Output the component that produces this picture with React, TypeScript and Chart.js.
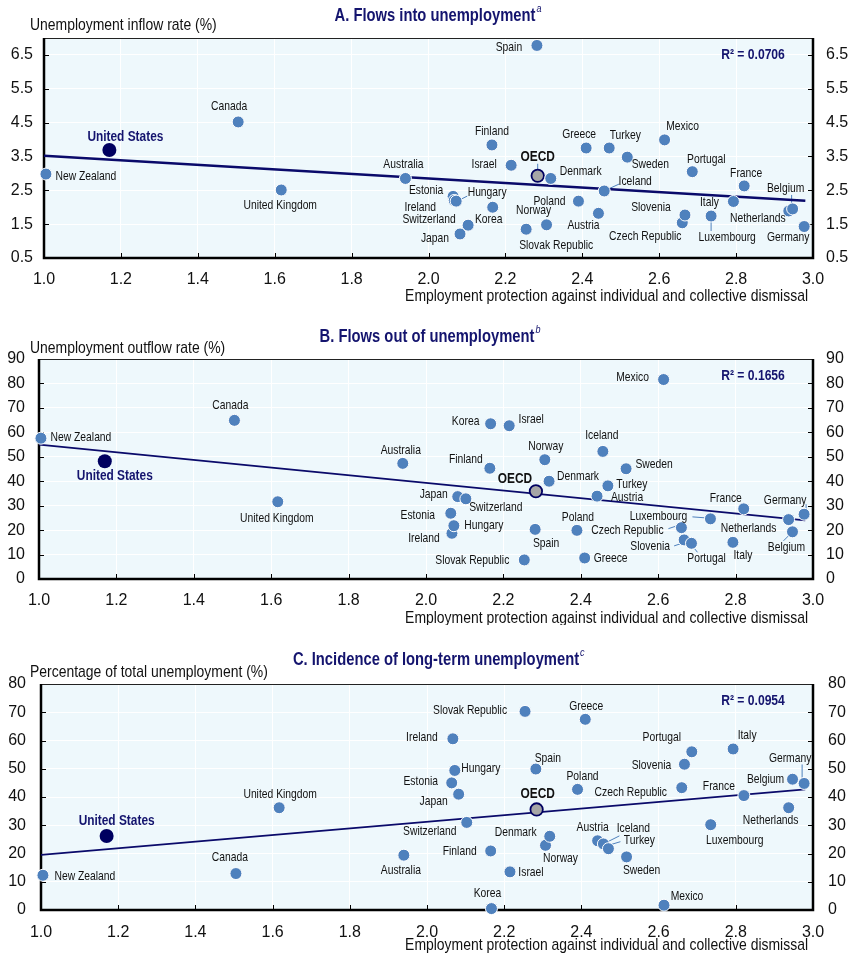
import React, { useEffect, useRef } from 'react';
import { Chart, registerables } from 'chart.js';

Chart.register(...registerables);

const FONT = "'Liberation Sans', Arial, sans-serif";
const NARROW = 0.82;
const NAVY = '#14146e';
const LINE_NAVY = '#0a0a6a';
const BLUE = '#4f81bd';
const BG = '#eef8fc';

const countries = ['New Zealand', 'United States', 'Canada', 'United Kingdom', 'Australia', 'Estonia', 'Ireland', 'Hungary', 'Japan', 'Switzerland', 'Finland', 'Korea', 'Israel', 'Slovak Republic', 'Spain', 'OECD', 'Norway', 'Denmark', 'Poland', 'Greece', 'Austria', 'Iceland', 'Turkey', 'Sweden', 'Mexico', 'Czech Republic', 'Slovenia', 'Portugal', 'Luxembourg', 'Italy', 'France', 'Netherlands', 'Belgium', 'Germany'];

// Employment protection against individual and collective dismissal (x)
const eplIndex = [1.005, 1.17, 1.505, 1.617, 1.94, 2.064, 2.067, 2.072, 2.082, 2.103, 2.165, 2.167, 2.215, 2.254, 2.282, 2.284, 2.307, 2.318, 2.39, 2.41, 2.442, 2.457, 2.47, 2.517, 2.614, 2.66, 2.667, 2.686, 2.735, 2.793, 2.821, 2.937, 2.947, 2.977];

// Panel A: unemployment inflow rate (%)
const inflowRate = [2.98, 3.69, 4.52, 2.51, 2.85, 2.32, 2.2, 2.18, 1.21, 1.47, 3.84, 2.0, 3.24, 1.35, 6.78, 2.93, 1.48, 2.85, 2.18, 3.75, 1.82, 2.48, 3.75, 3.48, 3.99, 1.54, 1.77, 3.05, 1.74, 2.17, 2.63, 1.89, 1.95, 1.43];
// Panel B: unemployment outflow rate (%)
const outflowRate = [57.6, 48.2, 64.9, 31.6, 47.3, 26.9, 18.7, 21.8, 33.7, 32.8, 45.3, 63.5, 62.7, 7.8, 20.3, 35.9, 48.8, 40.0, 19.9, 8.6, 33.9, 52.2, 38.1, 45.1, 81.6, 21.0, 16.0, 14.6, 24.6, 15.0, 28.7, 24.3, 19.3, 26.5];
// Panel C: long-term unemployment, % of total unemployment
const longTermShare = [12.3, 26.2, 12.9, 36.2, 19.4, 45.0, 60.6, 49.4, 41.0, 31.0, 20.9, 0.5, 13.5, 70.3, 49.9, 35.6, 22.9, 26.1, 42.7, 67.5, 24.5, 23.4, 21.7, 18.8, 1.7, 43.3, 51.6, 56.0, 30.2, 57.0, 40.5, 36.2, 46.3, 44.8];

// Linear fits (end points)
const trendX = [1.0, 2.98];
const trendA = [3.52, 2.19];
const trendB = [55.0, 24.0];
const trendC = [19.5, 42.7];

const xTicks = [1.0, 1.2, 1.4, 1.6, 1.8, 2.0, 2.2, 2.4, 2.6, 2.8, 3.0];
const yTicksA = [0.5, 1.5, 2.5, 3.5, 4.5, 5.5, 6.5];
const yTicksB = [0, 10, 20, 30, 40, 50, 60, 70, 80, 90];
const yTicksC = [0, 10, 20, 30, 40, 50, 60, 70, 80];

// label placement (pixel offsets of label centre from the point)
const labelPosA: Record<string, number[]> = {
  'New Zealand': [40, 2], 'United States': [16, -13], 'Canada': [-9, -15], 'United Kingdom': [-1, 16], 'Australia': [-2, -14],
  'Estonia': [-27, -6], 'Ireland': [-34, 7], 'Hungary': [31, -9], 'Japan': [-25, 5], 'Switzerland': [-39, -6],
  'Finland': [0, -13], 'Korea': [-4, 12], 'Israel': [-27, -1], 'Slovak Republic': [30, 16], 'Spain': [-28, 2],
  'OECD': [0, -19], 'Norway': [-13, -14], 'Denmark': [30, -7], 'Poland': [-29, 0], 'Greece': [-7, -13],
  'Austria': [-15, 12], 'Iceland': [31, -9], 'Turkey': [16, -12], 'Sweden': [23, 7], 'Mexico': [18, -13],
  'Czech Republic': [-37, 14], 'Slovenia': [-34, -7], 'Portugal': [14, -12], 'Luxembourg': [16, 21], 'Italy': [-24, 1],
  'France': [2, -12], 'Netherlands': [-31, 8], 'Belgium': [-7, -20], 'Germany': [-16, 11],
};
const leadersA: Record<string, number[]> = {
  'Hungary': [5, -2, 11, -5], 'OECD': [0, -12, 0, -6], 'Iceland': [2, -1, 15, -7], 'Luxembourg': [0, 5, 0, 15], 'Belgium': [-1, -14, -1, -4],
};
const labelPosB: Record<string, number[]> = {
  'New Zealand': [40, -1], 'United States': [10, 15], 'Canada': [-4, -15], 'United Kingdom': [-1, 17], 'Australia': [-2, -13],
  'Estonia': [-33, 2], 'Ireland': [-28, 5], 'Hungary': [30, 0], 'Japan': [-24, -2], 'Switzerland': [30, 9],
  'Finland': [-24, -9], 'Korea': [-25, -2], 'Israel': [22, -6], 'Slovak Republic': [-52, 1], 'Spain': [11, 14],
  'OECD': [-21, -12], 'Norway': [1, -13], 'Denmark': [29, -5], 'Poland': [1, -13], 'Greece': [26, 1],
  'Austria': [30, 1], 'Iceland': [-1, -16], 'Turkey': [24, -1], 'Sweden': [28, -4], 'Mexico': [-31, -2],
  'Czech Republic': [-54, 3], 'Slovenia': [-34, 7], 'Portugal': [15, 15], 'Luxembourg': [-52, -2], 'Italy': [10, 13],
  'France': [-18, -10], 'Netherlands': [-40, 9], 'Belgium': [-6, 16], 'Germany': [-19, -14],
};
const leadersB: Record<string, number[]> = {
  'Czech Republic': [-13, 1, -4, -2], 'Luxembourg': [-18, -2, -5, -1], 'Slovenia': [-10, 6, -4, 4],
  'Portugal': [2, 4, 6, 9], 'Germany': [2, -10, 2, -5], 'Belgium': [-9, 9, -4, 4],
};
const labelPosC: Record<string, number[]> = {
  'New Zealand': [42, 1], 'United States': [10, -15], 'Canada': [-6, -16], 'United Kingdom': [1, -13], 'Australia': [-3, 15],
  'Estonia': [-31, -1], 'Ireland': [-31, -1], 'Hungary': [26, -2], 'Japan': [-25, 7], 'Switzerland': [-37, 9],
  'Finland': [-31, 1], 'Korea': [-4, -15], 'Israel': [21, 1], 'Slovak Republic': [-55, -1], 'Spain': [12, -11],
  'OECD': [1, -15], 'Norway': [15, 13], 'Denmark': [-34, -4], 'Poland': [5, -13], 'Greece': [1, -13],
  'Austria': [-5, -13], 'Iceland': [30, -15], 'Turkey': [31, -8], 'Sweden': [15, 14], 'Mexico': [23, -9],
  'Czech Republic': [-51, 5], 'Slovenia': [-33, 1], 'Portugal': [-30, -14], 'Luxembourg': [24, 16], 'Italy': [14, -13],
  'France': [-25, -9], 'Netherlands': [-18, 13], 'Belgium': [-27, 0], 'Germany': [-14, -25],
};
const leadersC: Record<string, number[]> = {
  'Germany': [-2, -19, -2, -4], 'Iceland': [4, -2, 16, -8], 'Turkey': [2, -4, 12, -7],
};

type Panel = {
  key: string; top: number; height: number;
  title: string; sup: string; titleX: number; titleY: number;
  caption: string; captionY: number; r2: string;
  values: number[]; trend: number[]; yMin: number; yMax: number; yTicks: number[]; decimals: number;
  labelPos: Record<string, number[]>; leaders: Record<string, number[]>;
  leftW: number; rightW: number; padTop: number; xAxisH: number;
  leftPad: number; rightPad: number; xLabelPad: number; xTitleDy: number; lineW: number;
};

const panels: Panel[] = [
  {
    key: 'A', top: 0, height: 310, title: 'A. Flows into unemployment', sup: 'a', titleX: 435, titleY: 16,
    caption: 'Unemployment inflow rate (%)', captionY: 25, r2: 'R\u00B2 = 0.0706',
    values: inflowRate, trend: trendA, yMin: 0.5, yMax: 7.0, yTicks: yTicksA, decimals: 1,
    labelPos: labelPosA, leaders: leadersA, leftW: 44, rightW: 38, padTop: 38, xAxisH: 52,
    leftPad: 11, rightPad: 13, xLabelPad: 12, xTitleDy: 38, lineW: 2.6,
  },
  {
    key: 'B', top: 310, height: 315, title: 'B. Flows out of unemployment', sup: 'b', titleX: 427, titleY: 27,
    caption: 'Unemployment outflow rate (%)', captionY: 38, r2: 'R\u00B2 = 0.1656',
    values: outflowRate, trend: trendB, yMin: 0, yMax: 90, yTicks: yTicksB, decimals: 0,
    labelPos: labelPosB, leaders: leadersB, leftW: 39, rightW: 38, padTop: 49, xAxisH: 46,
    leftPad: 14, rightPad: 13, xLabelPad: 12, xTitleDy: 39, lineW: 1.8,
  },
  {
    key: 'C', top: 625, height: 331, title: 'C. Incidence of long-term unemployment', sup: 'c', titleX: 436, titleY: 35,
    caption: 'Percentage of total unemployment (%)', captionY: 47, r2: 'R\u00B2 = 0.0954',
    values: longTermShare, trend: trendC, yMin: 0, yMax: 80, yTicks: yTicksC, decimals: 0,
    labelPos: labelPosC, leaders: leadersC, leftW: 41, rightW: 38, padTop: 59, xAxisH: 46,
    leftPad: 15, rightPad: 15, xLabelPad: 13, xTitleDy: 35, lineW: 1.8,
  },
];

function narrowText(ctx: any, text: string, x: number, y: number, font: string, color: string, align: string) {
  ctx.save();
  ctx.font = font;
  ctx.fillStyle = color;
  ctx.textAlign = align;
  ctx.textBaseline = 'middle';
  ctx.translate(x, y);
  ctx.scale(NARROW, 1);
  ctx.fillText(text, 0, 0);
  const w = ctx.measureText(text).width * NARROW;
  ctx.restore();
  return w;
}

function makeDecor(p: Panel) {
  return {
    id: 'decor' + p.key,
    beforeDraw(chart: any) {
      const { ctx, chartArea: a } = chart;
      ctx.save();
      ctx.fillStyle = BG;
      ctx.fillRect(a.left, a.top, a.right - a.left, a.bottom - a.top);
      ctx.restore();
    },
    beforeDatasetsDraw(chart: any) {
      const { ctx, chartArea: a, scales } = chart;
      ctx.save();
      ctx.strokeStyle = '#000';
      ctx.lineWidth = 1;
      ctx.beginPath();
      xTicks.forEach((v) => {
        const x = Math.round(scales.x.getPixelForValue(v)) + 0.5;
        ctx.moveTo(x, a.bottom);
        ctx.lineTo(x, a.bottom - 5);
      });
      p.yTicks.forEach((v) => {
        const y = Math.round(scales.y.getPixelForValue(v)) + 0.5;
        ctx.moveTo(a.left, y);
        ctx.lineTo(a.left + 5, y);
        ctx.moveTo(a.right, y);
        ctx.lineTo(a.right - 5, y);
      });
      ctx.stroke();
      ctx.beginPath();
      ctx.lineWidth = 1.2;
      ctx.strokeStyle = '#222';
      ctx.moveTo(a.left, a.top + 0.5);
      ctx.lineTo(a.right, a.top + 0.5);
      ctx.stroke();
      ctx.beginPath();
      ctx.lineWidth = 2.5;
      ctx.strokeStyle = '#000';
      ctx.moveTo(a.left, a.top);
      ctx.lineTo(a.left, a.bottom);
      ctx.lineTo(a.right, a.bottom);
      ctx.lineTo(a.right, a.top);
      ctx.stroke();
      const meta = chart.getDatasetMeta(0);
      ctx.strokeStyle = BLUE;
      ctx.lineWidth = 1;
      countries.forEach((c, i) => {
        const l = p.leaders[c];
        if (!l) return;
        const pt = meta.data[i];
        ctx.beginPath();
        ctx.moveTo(pt.x + l[0], pt.y + l[1]);
        ctx.lineTo(pt.x + l[2], pt.y + l[3]);
        ctx.stroke();
      });
      ctx.restore();
    },
    afterDatasetsDraw(chart: any) {
      const { ctx } = chart;
      const meta = chart.getDatasetMeta(0);
      countries.forEach((c, i) => {
        const off = p.labelPos[c] || [0, -12];
        const pt = meta.data[i];
        let font = `12.6px ${FONT}`;
        let color = '#111';
        if (c === 'United States') {
          font = `bold 14.5px ${FONT}`;
          color = NAVY;
        } else if (c === 'OECD') {
          font = `bold 14.5px ${FONT}`;
          color = '#111';
        }
        narrowText(ctx, c, pt.x + off[0], pt.y + off[1], font, color, 'center');
      });
    },
    afterDraw(chart: any) {
      const { ctx, chartArea: a } = chart;
      const w = narrowText(ctx, p.title, p.titleX, p.titleY, `bold 18px ${FONT}`, NAVY, 'center');
      narrowText(ctx, p.sup, p.titleX + w / 2 + 1, p.titleY - 7, `italic 11px ${FONT}`, NAVY, 'left');
      narrowText(ctx, p.caption, 30, p.captionY, `17px ${FONT}`, '#111', 'left');
      narrowText(ctx, 'Employment protection against individual and collective dismissal', a.right - 5, a.bottom + p.xTitleDy, `17px ${FONT}`, '#111', 'right');
      narrowText(ctx, p.r2, a.right - 60, a.top + 17, `bold 14.8px ${FONT}`, NAVY, 'center');
    },
  };
}

function buildConfig(p: Panel): any {
  const pts = countries.map((c, i) => ({ x: eplIndex[i], y: p.values[i] }));
  const bg = countries.map((c) => (c === 'United States' ? '#000060' : c === 'OECD' ? '#a6a6a6' : BLUE));
  const radius = countries.map((c) => (c === 'United States' ? 7 : c === 'OECD' ? 6.2 : 6));
  const bcol = countries.map((c) => (c === 'OECD' ? '#000060' : '#ffffff'));
  const bw = countries.map((c) => (c === 'OECD' ? 1.8 : c === 'United States' ? 0 : 1));
  const tickFont = { family: FONT, size: 16 };
  const yAxis = (pos: string, width: number, pad: number, grid: boolean) => ({
    type: 'linear',
    position: pos,
    min: p.yMin,
    max: p.yMax,
    afterBuildTicks: (s: any) => { s.ticks = p.yTicks.map((v) => ({ value: v })); },
    afterFit: (s: any) => { s.width = width; },
    grid: { display: grid, color: '#ffffff', lineWidth: 1, drawTicks: false },
    border: { display: false },
    ticks: {
      font: tickFont, color: '#111', padding: pad, autoSkip: false,
      callback: (v: any) => Number(v).toFixed(p.decimals),
    },
  });
  return {
    type: 'scatter',
    data: {
      datasets: [
        {
          label: 'countries', data: pts, clip: false,
          pointBackgroundColor: bg, pointBorderColor: bcol, pointBorderWidth: bw, pointRadius: radius,
        },
        {
          label: 'trend', data: trendX.map((x, i) => ({ x, y: p.trend[i] })), showLine: true, clip: false,
          borderColor: LINE_NAVY, borderWidth: p.lineW, pointRadius: 0,
        },
      ],
    },
    options: {
      responsive: false,
      animation: false,
      events: [],
      layout: { padding: { top: p.padTop, left: 0, right: 0, bottom: 0 } },
      plugins: { legend: { display: false }, tooltip: { enabled: false }, title: { display: false } },
      scales: {
        x: {
          type: 'linear', min: 1, max: 3,
          afterBuildTicks: (s: any) => { s.ticks = xTicks.map((v) => ({ value: v })); },
          afterFit: (s: any) => { s.height = p.xAxisH; },
          grid: { color: '#ffffff', lineWidth: 1, drawTicks: false },
          border: { display: false },
          ticks: {
            font: tickFont, color: '#111', padding: p.xLabelPad, autoSkip: false, maxRotation: 0,
            callback: (v: any) => Number(v).toFixed(1),
          },
        },
        y: yAxis('left', p.leftW, p.leftPad, true),
        y2: yAxis('right', p.rightW, p.rightPad, false),
      },
    },
    plugins: [makeDecor(p)],
  };
}

function PanelChart({ p }: { p: Panel }) {
  const ref = useRef<HTMLCanvasElement>(null);
  useEffect(() => {
    const chart = new Chart(ref.current as HTMLCanvasElement, buildConfig(p));
    return () => chart.destroy();
  }, []);
  return (
    <canvas
      ref={ref}
      width={851}
      height={p.height}
      style={{ position: 'absolute', left: 0, top: p.top, width: 851, height: p.height }}
    />
  );
}

export default function App() {
  return (
    <div style={{ position: 'absolute', left: 0, top: 0, width: 851, height: 956, background: '#ffffff' }}>
      {panels.map((p) => (
        <PanelChart key={p.key} p={p} />
      ))}
    </div>
  );
}
